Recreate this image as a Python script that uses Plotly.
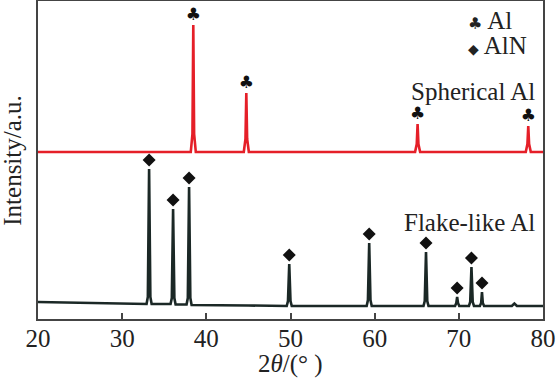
import plotly.graph_objects as go

# ---- data (intensity in arbitrary units) ----
# Spherical Al (red) pattern
sph_x = [20, 38.15, 38.35, 38.45, 38.55, 38.75,
         44.45, 44.65, 44.75, 44.85, 45.05,
         64.8, 65.0, 65.1, 65.2, 65.4,
         77.95, 78.15, 78.25, 78.35, 78.55, 80]
sph_y = [167, 167, 185, 294, 185, 167,
         167, 180, 226, 180, 167,
         167, 175, 195, 175, 167,
         167, 175, 193, 175, 167, 167]

# Flake-like Al (dark) pattern
flk_x = [20, 30, 32.9, 33.05, 33.2, 33.35, 33.5,
         35.75, 35.9, 36.05, 36.2, 36.35,
         37.65, 37.8, 37.95, 38.1, 38.25, 45,
         49.55, 49.7, 49.85, 50.0, 50.15,
         59.05, 59.2, 59.35, 59.5, 59.65,
         65.8, 65.95, 66.1, 66.25, 66.4,
         69.55, 69.7, 69.8, 69.9, 70.05,
         71.2, 71.35, 71.5, 71.65, 71.8,
         72.5, 72.65, 72.75, 72.85, 73.0,
         76.3, 76.6, 76.9, 80]
flk_y = [17, 15.5, 15, 22, 150, 22, 15,
         15, 21, 110, 21, 14.5,
         14.5, 21, 132, 21, 14, 13.5,
         13, 18, 55, 18, 13,
         13, 19, 76, 19, 13,
         13, 18, 67, 18, 13,
         13, 16, 22, 16, 13,
         13, 17, 52, 17, 13,
         13, 16, 27, 16, 13,
         13, 15.5, 13, 13]

# peak markers
al_peak_x = [38.45, 44.75, 65.1, 78.25]
al_peak_y = [294, 226, 195, 193]
aln_peak_x = [33.2, 36.05, 37.95, 49.85, 59.35, 66.1, 69.8, 71.5, 72.75]
aln_peak_y = [150, 110, 132, 55, 76, 67, 22, 52, 27]

x_ticks = [20, 30, 40, 50, 60, 70, 80]

FONT = "Liberation Serif"
RED = "#e51f28"
DARK = "#1b2826"
TXT = "#222"

fig = go.Figure()
fig.add_trace(go.Scatter(x=sph_x, y=sph_y, mode="lines",
                         line=dict(color=RED, width=2.6), showlegend=False))
fig.add_trace(go.Scatter(x=flk_x, y=flk_y, mode="lines",
                         line=dict(color=DARK, width=2.6), showlegend=False))
fig.add_trace(go.Scatter(x=al_peak_x, y=[v + 9 for v in al_peak_y], mode="text",
                         text=["♣"] * len(al_peak_x),
                         textfont=dict(family="DejaVu Sans", size=17, color="#111"),
                         showlegend=False))
fig.add_trace(go.Scatter(x=aln_peak_x, y=[v + 9 for v in aln_peak_y], mode="markers",
                         marker=dict(symbol="diamond", size=10, color="#111"),
                         showlegend=False))

annos = [
    dict(x=70.9, y=299, xref="x", yref="y", xanchor="left", yanchor="middle",
         text="<span style='font-family:DejaVu Sans;font-size:16px'>♣</span> Al"),
    dict(x=70.9, y=274, xref="x", yref="y", xanchor="left", yanchor="middle",
         text="<span style='font-family:DejaVu Sans;font-size:14px'>◆</span> AlN"),
    dict(x=79.3, y=228, xref="x", yref="y", xanchor="right", yanchor="middle",
         text="Spherical Al"),
    dict(x=79.3, y=97, xref="x", yref="y", xanchor="right", yanchor="middle",
         text="Flake-like Al"),
    dict(x=0.5, y=-0.1415, xref="paper", yref="paper", xanchor="center", yanchor="middle",
         text="2<i>θ</i>/(° )"),
    dict(x=-0.052, y=0.5, xref="paper", yref="paper", xanchor="center", yanchor="middle",
         text="Intensity/a.u.", textangle=-90),
]
for a in annos:
    a.update(showarrow=False, font=dict(family=FONT, size=25, color=TXT))
fig.update_layout(annotations=annos)

fig.update_layout(
    width=556, height=380,
    margin=dict(l=38, r=13, t=1, b=61),
    paper_bgcolor="white", plot_bgcolor="white",
    font=dict(family=FONT, size=25, color=TXT),
    xaxis=dict(range=[20, 80], tickvals=x_ticks, ticks="inside", ticklen=6,
               tickcolor="#444", tickwidth=1.5, automargin=False,
               ticklabelstandoff=-4,
               showline=True, linecolor="#444", linewidth=2, mirror=True,
               showgrid=False, zeroline=False,
               tickfont=dict(family=FONT, size=25, color=TXT)),
    yaxis=dict(range=[0, 318], showticklabels=False, ticks="", automargin=False,
               showline=True, linecolor="#444", linewidth=2, mirror=True,
               showgrid=False, zeroline=False),
)

fig.write_html("out.html", config={"displayModeBar": False},
               post_script="document.body.style.margin='0';document.body.style.overflow='hidden';")
